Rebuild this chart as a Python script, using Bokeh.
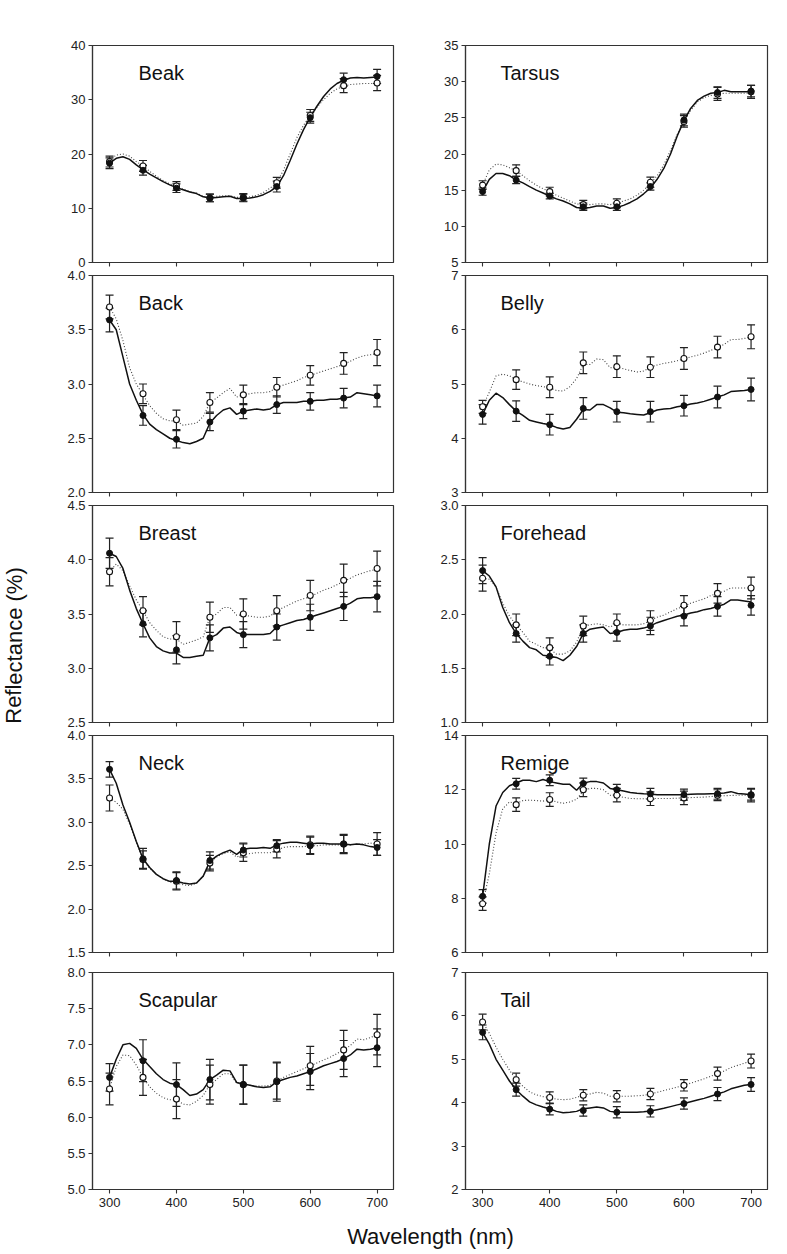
from bokeh.plotting import figure
from bokeh.layouts import row, column
from bokeh.models import Range1d, FixedTicker, PrintfTickFormatter, ColumnDataSource, Whisker, TeeHead, Label
from bokeh.embed import file_html
from bokeh.resources import INLINE
from bokeh.core.properties import value

FONT = "Liberation Sans"

WL = [300, 310, 320, 330, 340, 350, 360, 370, 380, 390, 400, 410, 420, 430, 440, 450, 460, 470, 480, 490,
      500, 510, 520, 530, 540, 550, 560, 570, 580, 590, 600, 610, 620, 630, 640, 650, 660, 670, 680, 690, 700]
PTS_WL = [300, 350, 400, 450, 500, 550, 600, 650, 700]
X_TICKS = [300, 400, 500, 600, 700]

# ---------------- Beak ----------------
beak_solid_curve = [18.3, 19.2, 19.5, 19.0, 18.0, 17.1, 16.3, 15.6, 14.9, 14.3, 13.8, 13.4, 13.0, 12.7, 12.1, 11.9, 12.0, 12.1, 12.2, 11.8,
                    11.8, 11.9, 12.1, 12.5, 13.1, 14.0, 16.0, 18.8, 21.8, 24.5, 26.8, 28.8, 30.6, 32.0, 33.0, 33.6, 34.0, 34.1, 34.0, 34.1, 34.2]
beak_open_curve = [18.9, 19.8, 20.0, 19.6, 18.6, 17.8, 16.8, 15.9, 15.1, 14.5, 14.0, 13.5, 13.1, 12.8, 12.2, 12.0, 12.2, 12.3, 12.3, 12.0,
                   12.0, 12.1, 12.4, 12.9, 13.7, 14.7, 17.0, 20.0, 23.0, 25.3, 27.0, 28.6, 30.0, 31.2, 32.0, 32.5, 32.8, 32.9, 33.0, 33.0, 33.0]
beak_solid_pts = [18.3, 17.0, 13.7, 11.9, 11.9, 14.0, 26.7, 33.7, 34.3]
beak_solid_err = [1.0, 0.9, 0.8, 0.7, 0.7, 1.0, 1.0, 1.2, 1.3]
beak_open_pts = [18.6, 17.8, 14.1, 11.9, 12.0, 14.7, 27.1, 32.6, 33.1]
beak_open_err = [1.0, 1.0, 0.8, 0.7, 0.7, 1.0, 1.1, 1.3, 1.4]

# ---------------- Tarsus ----------------
tarsus_solid_curve = [14.8, 16.5, 17.3, 17.3, 17.0, 16.4, 16.0, 15.5, 15.0, 14.6, 14.2, 13.8, 13.5, 13.1, 12.6, 12.5, 12.6, 12.8, 12.8, 12.5,
                      12.6, 12.9, 13.3, 13.8, 14.5, 15.3, 16.5, 18.0, 20.0, 22.5, 24.6, 26.3, 27.4, 28.0, 28.4, 28.5, 28.8, 28.6, 28.6, 28.6, 28.6]
tarsus_open_curve = [15.7, 17.8, 18.6, 18.5, 18.1, 17.7, 17.0, 16.3, 15.7, 15.2, 14.8, 14.3, 13.9, 13.5, 13.1, 13.0, 13.0, 13.1, 13.1, 13.0,
                     13.2, 13.5, 13.8, 14.3, 15.0, 15.9, 17.0, 18.5, 20.5, 22.7, 24.5, 26.0, 27.2, 27.8, 28.1, 28.2, 28.4, 28.4, 28.4, 28.4, 28.4]
tarsus_solid_pts = [14.8, 16.4, 14.2, 12.7, 12.7, 15.5, 24.7, 28.5, 28.7]
tarsus_solid_err = [0.5, 0.5, 0.4, 0.5, 0.5, 0.5, 0.8, 0.8, 0.8]
tarsus_open_pts = [15.7, 17.7, 14.8, 13.0, 13.2, 16.1, 24.5, 28.3, 28.6]
tarsus_open_err = [0.6, 0.8, 0.6, 0.6, 0.6, 0.7, 0.8, 0.9, 0.9]

# ---------------- Back ----------------
back_solid_curve = [3.59, 3.50, 3.25, 3.00, 2.85, 2.72, 2.63, 2.58, 2.54, 2.50, 2.48, 2.46, 2.45, 2.47, 2.50, 2.64, 2.71, 2.76, 2.78, 2.72,
                    2.75, 2.76, 2.77, 2.76, 2.77, 2.81, 2.83, 2.83, 2.83, 2.84, 2.84, 2.85, 2.85, 2.86, 2.86, 2.87, 2.88, 2.92, 2.91, 2.90, 2.89]
back_open_curve = [3.71, 3.60, 3.40, 3.15, 3.00, 2.90, 2.80, 2.73, 2.68, 2.66, 2.66, 2.62, 2.63, 2.64, 2.70, 2.83, 2.87, 2.92, 2.96, 2.88,
                   2.90, 2.91, 2.92, 2.92, 2.93, 2.97, 2.99, 3.01, 3.03, 3.06, 3.08, 3.10, 3.12, 3.14, 3.16, 3.18, 3.21, 3.24, 3.26, 3.27, 3.28]
back_solid_pts = [3.59, 2.71, 2.49, 2.65, 2.75, 2.81, 2.84, 2.87, 2.89]
back_solid_err = [0.11, 0.09, 0.08, 0.08, 0.07, 0.08, 0.08, 0.09, 0.10]
back_open_pts = [3.71, 2.91, 2.67, 2.83, 2.90, 2.97, 3.08, 3.19, 3.29]
back_open_err = [0.11, 0.09, 0.09, 0.09, 0.09, 0.09, 0.09, 0.10, 0.12]

# ---------------- Belly ----------------
belly_solid_curve = [4.44, 4.70, 4.83, 4.75, 4.62, 4.50, 4.42, 4.33, 4.30, 4.27, 4.25, 4.20, 4.17, 4.20, 4.35, 4.53, 4.52, 4.62, 4.62, 4.56,
                     4.48, 4.47, 4.45, 4.44, 4.43, 4.47, 4.52, 4.54, 4.55, 4.58, 4.60, 4.63, 4.65, 4.68, 4.72, 4.76, 4.80, 4.86, 4.87, 4.88, 4.90]
belly_open_curve = [4.58, 4.85, 5.15, 5.18, 5.15, 5.08, 5.04, 5.00, 4.97, 4.95, 4.93, 4.88, 4.87, 4.95, 5.10, 5.36, 5.36, 5.46, 5.45, 5.30,
                    5.31, 5.28, 5.25, 5.22, 5.24, 5.31, 5.35, 5.38, 5.40, 5.43, 5.46, 5.50, 5.53, 5.57, 5.62, 5.67, 5.73, 5.82, 5.82, 5.84, 5.87]
belly_solid_pts = [4.44, 4.50, 4.25, 4.55, 4.49, 4.49, 4.60, 4.76, 4.90]
belly_solid_err = [0.18, 0.19, 0.19, 0.20, 0.19, 0.19, 0.19, 0.20, 0.21]
belly_open_pts = [4.58, 5.08, 4.94, 5.39, 5.32, 5.31, 5.47, 5.68, 5.87]
belly_open_err = [0.12, 0.18, 0.19, 0.20, 0.20, 0.19, 0.20, 0.20, 0.22]

# ---------------- Breast ----------------
breast_solid_curve = [4.06, 4.03, 3.92, 3.72, 3.55, 3.41, 3.28, 3.20, 3.16, 3.14, 3.14, 3.10, 3.10, 3.11, 3.12, 3.28, 3.31, 3.37, 3.38, 3.33,
                      3.31, 3.31, 3.31, 3.31, 3.32, 3.38, 3.40, 3.42, 3.44, 3.45, 3.47, 3.49, 3.51, 3.53, 3.55, 3.57, 3.60, 3.64, 3.65, 3.65, 3.66]
breast_open_curve = [3.89, 3.96, 3.90, 3.76, 3.63, 3.53, 3.42, 3.35, 3.29, 3.27, 3.27, 3.22, 3.24, 3.26, 3.29, 3.47, 3.50, 3.56, 3.56, 3.49,
                     3.49, 3.48, 3.47, 3.47, 3.48, 3.53, 3.56, 3.59, 3.62, 3.64, 3.66, 3.69, 3.72, 3.74, 3.77, 3.80, 3.83, 3.86, 3.88, 3.90, 3.91]
breast_solid_pts = [4.06, 3.41, 3.17, 3.28, 3.31, 3.38, 3.47, 3.57, 3.66]
breast_solid_err = [0.14, 0.12, 0.13, 0.12, 0.12, 0.12, 0.12, 0.13, 0.14]
breast_open_pts = [3.89, 3.53, 3.29, 3.47, 3.50, 3.53, 3.67, 3.81, 3.92]
breast_open_err = [0.13, 0.13, 0.14, 0.14, 0.14, 0.14, 0.14, 0.15, 0.16]

# ---------------- Forehead ----------------
forehead_solid_curve = [2.40, 2.35, 2.25, 2.06, 1.92, 1.82, 1.75, 1.69, 1.67, 1.62, 1.61, 1.60, 1.57, 1.62, 1.70, 1.82, 1.86, 1.87, 1.88, 1.82,
                        1.83, 1.85, 1.86, 1.86, 1.87, 1.89, 1.92, 1.94, 1.96, 1.98, 1.99, 2.01, 2.02, 2.04, 2.05, 2.07, 2.09, 2.13, 2.13, 2.12, 2.11]
forehead_open_curve = [2.33, 2.32, 2.25, 2.10, 1.98, 1.90, 1.83, 1.75, 1.72, 1.69, 1.68, 1.63, 1.63, 1.66, 1.74, 1.89, 1.90, 1.91, 1.90, 1.88,
                       1.91, 1.90, 1.90, 1.90, 1.91, 1.94, 1.97, 1.99, 2.02, 2.05, 2.07, 2.10, 2.12, 2.14, 2.17, 2.19, 2.21, 2.24, 2.24, 2.24, 2.24]
forehead_solid_pts = [2.40, 1.82, 1.61, 1.82, 1.83, 1.89, 1.98, 2.07, 2.08]
forehead_solid_err = [0.12, 0.08, 0.08, 0.08, 0.08, 0.08, 0.09, 0.09, 0.09]
forehead_open_pts = [2.33, 1.90, 1.69, 1.89, 1.92, 1.94, 2.08, 2.19, 2.24]
forehead_open_err = [0.12, 0.10, 0.09, 0.09, 0.08, 0.09, 0.09, 0.09, 0.10]

# ---------------- Neck ----------------
neck_solid_curve = [3.61, 3.45, 3.20, 3.00, 2.78, 2.58, 2.48, 2.40, 2.35, 2.32, 2.32, 2.30, 2.29, 2.30, 2.38, 2.55, 2.61, 2.65, 2.68, 2.63,
                    2.69, 2.70, 2.70, 2.71, 2.70, 2.74, 2.76, 2.77, 2.77, 2.76, 2.75, 2.76, 2.76, 2.75, 2.75, 2.75, 2.74, 2.75, 2.74, 2.72, 2.71]
neck_open_curve = [3.28, 3.23, 3.15, 2.98, 2.77, 2.57, 2.47, 2.40, 2.35, 2.31, 2.30, 2.28, 2.27, 2.30, 2.38, 2.53, 2.60, 2.64, 2.66, 2.60,
                   2.63, 2.64, 2.65, 2.65, 2.65, 2.68, 2.71, 2.72, 2.72, 2.72, 2.73, 2.73, 2.74, 2.74, 2.74, 2.74, 2.74, 2.75, 2.75, 2.76, 2.75]
neck_solid_pts = [3.61, 2.58, 2.33, 2.56, 2.68, 2.73, 2.73, 2.75, 2.71]
neck_solid_err = [0.09, 0.12, 0.10, 0.10, 0.08, 0.07, 0.10, 0.10, 0.09]
neck_open_pts = [3.28, 2.57, 2.32, 2.53, 2.65, 2.69, 2.74, 2.75, 2.75]
neck_open_err = [0.15, 0.10, 0.10, 0.09, 0.10, 0.10, 0.10, 0.11, 0.13]

# ---------------- Remige ----------------
remige_solid_curve = [8.07, 10.0, 11.4, 11.9, 12.15, 12.25, 12.35, 12.35, 12.30, 12.38, 12.30, 12.25, 12.20, 12.20, 11.98, 12.25, 12.30, 12.30, 12.25, 12.05,
                      12.00, 11.95, 11.90, 11.87, 11.85, 11.84, 11.82, 11.82, 11.82, 11.82, 11.82, 11.83, 11.84, 11.84, 11.85, 11.86, 11.88, 11.93, 11.86, 11.84, 11.82]
remige_open_curve = [7.80, 8.90, 10.40, 11.30, 11.55, 11.50, 11.60, 11.62, 11.60, 11.58, 11.65, 11.55, 11.50, 11.55, 11.65, 11.95, 12.05, 12.05, 12.00, 11.80,
                     11.78, 11.72, 11.68, 11.67, 11.67, 11.67, 11.68, 11.68, 11.68, 11.69, 11.70, 11.71, 11.72, 11.73, 11.75, 11.77, 11.78, 11.79, 11.80, 11.80, 11.80]
remige_solid_pts = [8.07, 12.22, 12.35, 12.23, 12.00, 11.85, 11.82, 11.85, 11.82]
remige_solid_err = [0.25, 0.20, 0.20, 0.20, 0.20, 0.20, 0.20, 0.20, 0.20]
remige_open_pts = [7.80, 11.45, 11.64, 12.00, 11.80, 11.67, 11.70, 11.80, 11.80]
remige_open_err = [0.25, 0.25, 0.25, 0.25, 0.25, 0.25, 0.25, 0.20, 0.25]

# ---------------- Scapular ----------------
scapular_solid_curve = [6.55, 6.80, 7.00, 7.02, 6.95, 6.80, 6.70, 6.60, 6.52, 6.47, 6.45, 6.38, 6.30, 6.32, 6.38, 6.52, 6.58, 6.65, 6.64, 6.48,
                        6.46, 6.44, 6.42, 6.41, 6.42, 6.49, 6.52, 6.55, 6.57, 6.60, 6.63, 6.67, 6.71, 6.74, 6.77, 6.81, 6.86, 6.94, 6.93, 6.94, 6.96]
scapular_open_curve = [6.39, 6.70, 6.86, 6.85, 6.72, 6.55, 6.42, 6.33, 6.27, 6.24, 6.24, 6.18, 6.17, 6.22, 6.30, 6.45, 6.52, 6.60, 6.60, 6.47,
                       6.46, 6.44, 6.43, 6.43, 6.44, 6.50, 6.55, 6.59, 6.63, 6.67, 6.71, 6.75, 6.79, 6.83, 6.88, 6.93, 6.99, 7.08, 7.07, 7.10, 7.14]
scapular_solid_pts = [6.55, 6.78, 6.45, 6.52, 6.45, 6.49, 6.63, 6.81, 6.96]
scapular_solid_err = [0.19, 0.29, 0.30, 0.28, 0.27, 0.27, 0.25, 0.25, 0.26]
scapular_open_pts = [6.39, 6.55, 6.25, 6.45, 6.45, 6.50, 6.71, 6.93, 7.14]
scapular_open_err = [0.22, 0.25, 0.27, 0.27, 0.27, 0.25, 0.27, 0.27, 0.28]

# ---------------- Tail ----------------
tail_solid_curve = [5.62, 5.35, 5.00, 4.75, 4.50, 4.30, 4.15, 4.02, 3.95, 3.90, 3.86, 3.80, 3.77, 3.78, 3.80, 3.86, 3.88, 3.90, 3.88, 3.80,
                    3.78, 3.78, 3.78, 3.78, 3.79, 3.81, 3.84, 3.87, 3.91, 3.95, 3.98, 4.02, 4.06, 4.10, 4.15, 4.20, 4.25, 4.32, 4.36, 4.40, 4.42]
tail_open_curve = [5.86, 5.60, 5.28, 5.00, 4.75, 4.53, 4.38, 4.25, 4.18, 4.14, 4.12, 4.08, 4.07, 4.08, 4.12, 4.18, 4.20, 4.24, 4.22, 4.15,
                   4.15, 4.15, 4.15, 4.16, 4.17, 4.20, 4.24, 4.28, 4.32, 4.36, 4.40, 4.45, 4.50, 4.55, 4.61, 4.67, 4.73, 4.81, 4.86, 4.91, 4.96]
tail_solid_pts = [5.62, 4.30, 3.85, 3.82, 3.78, 3.80, 3.98, 4.20, 4.42]
tail_solid_err = [0.17, 0.15, 0.13, 0.13, 0.13, 0.13, 0.13, 0.15, 0.16]
tail_open_pts = [5.86, 4.53, 4.12, 4.17, 4.15, 4.20, 4.40, 4.67, 4.96]
tail_open_err = [0.18, 0.15, 0.13, 0.13, 0.13, 0.13, 0.13, 0.15, 0.16]

PANELS = [
    [("Beak", 0, 40, [0, 10, 20, 30, 40], "%d", beak_solid_curve, beak_open_curve, beak_solid_pts, beak_solid_err, beak_open_pts, beak_open_err),
     ("Tarsus", 5, 35, [5, 10, 15, 20, 25, 30, 35], "%d", tarsus_solid_curve, tarsus_open_curve, tarsus_solid_pts, tarsus_solid_err, tarsus_open_pts, tarsus_open_err)],
    [("Back", 2.0, 4.0, [2.0, 2.5, 3.0, 3.5, 4.0], "%.1f", back_solid_curve, back_open_curve, back_solid_pts, back_solid_err, back_open_pts, back_open_err),
     ("Belly", 3, 7, [3, 4, 5, 6, 7], "%d", belly_solid_curve, belly_open_curve, belly_solid_pts, belly_solid_err, belly_open_pts, belly_open_err)],
    [("Breast", 2.5, 4.5, [2.5, 3.0, 3.5, 4.0, 4.5], "%.1f", breast_solid_curve, breast_open_curve, breast_solid_pts, breast_solid_err, breast_open_pts, breast_open_err),
     ("Forehead", 1.0, 3.0, [1.0, 1.5, 2.0, 2.5, 3.0], "%.1f", forehead_solid_curve, forehead_open_curve, forehead_solid_pts, forehead_solid_err, forehead_open_pts, forehead_open_err)],
    [("Neck", 1.5, 4.0, [1.5, 2.0, 2.5, 3.0, 3.5, 4.0], "%.1f", neck_solid_curve, neck_open_curve, neck_solid_pts, neck_solid_err, neck_open_pts, neck_open_err),
     ("Remige", 6, 14, [6, 8, 10, 12, 14], "%d", remige_solid_curve, remige_open_curve, remige_solid_pts, remige_solid_err, remige_open_pts, remige_open_err)],
    [("Scapular", 5.0, 8.0, [5.0, 5.5, 6.0, 6.5, 7.0, 7.5, 8.0], "%.1f", scapular_solid_curve, scapular_open_curve, scapular_solid_pts, scapular_solid_err, scapular_open_pts, scapular_open_err),
     ("Tail", 2, 7, [2, 3, 4, 5, 6, 7], "%d", tail_solid_curve, tail_open_curve, tail_solid_pts, tail_solid_err, tail_open_pts, tail_open_err)],
]

FRAME_H = 217
TOPS = [45, 6, 6, 6, 13]
BOTTOMS = [7, 7, 7, 7, 25]
X0, X1 = 274.5, 724.5
AX = "#333333"
YLAB_W = 48


def add_errorbars(p, pts, err, color):
    src = ColumnDataSource(dict(x=PTS_WL, lo=[v - e for v, e in zip(pts, err)], hi=[v + e for v, e in zip(pts, err)]))
    w = Whisker(source=src, base="x", lower="lo", upper="hi", line_color=color, line_width=1.2,
                upper_head=TeeHead(size=8, line_color=color, line_width=1.2),
                lower_head=TeeHead(size=8, line_color=color, line_width=1.2))
    p.add_layout(w)


def make_panel(spec, col, r):
    name, ymin, ymax, yticks, fmt, sc, oc, sp, se, op, oe = spec
    fw = 301 if col == 0 else 302
    p = figure(frame_width=fw, frame_height=FRAME_H, x_range=Range1d(X0, X1), y_range=Range1d(ymin, ymax),
               output_backend="svg", toolbar_location=None,
               min_border_left=44 if col == 0 else 42, min_border_right=30 if col == 0 else 8,
               min_border_top=TOPS[r], min_border_bottom=BOTTOMS[r])
    p.xgrid.visible = False
    p.ygrid.visible = False
    p.outline_line_color = AX
    p.outline_line_width = 1.2
    p.outline_line_alpha = 1.0
    for ax in p.axis:
        ax.axis_line_color = AX
        ax.axis_line_width = 1.2
        ax.major_tick_line_color = AX
        ax.major_tick_line_width = 1.1
        ax.minor_tick_line_color = None
        ax.major_tick_in = 0
        ax.major_tick_out = 4
        ax.major_label_text_font = FONT
        ax.major_label_text_font_size = "13px"
        ax.major_label_text_color = "#222222"
    p.yaxis.ticker = FixedTicker(ticks=yticks)
    p.yaxis.formatter = PrintfTickFormatter(format=fmt)
    p.yaxis.major_label_standoff = 3
    p.xaxis.ticker = FixedTicker(ticks=X_TICKS)
    if r < 4:
        p.xaxis.major_label_text_color = None
        p.xaxis.major_label_standoff = 0
    else:
        p.xaxis.major_label_standoff = 4

    p.line(WL, oc, line_color="#444444", line_width=1.1, line_dash="1 2")
    p.line(WL, sc, line_color="#111111", line_width=1.5)
    add_errorbars(p, op, oe, "#222222")
    add_errorbars(p, sp, se, "#222222")
    p.scatter(PTS_WL, op, marker="circle", size=6, fill_color="white", line_color="#111111", line_width=1.1)
    p.scatter(PTS_WL, sp, marker="circle", size=6, fill_color="#111111", line_color="#111111")

    title_px = 46 if col == 0 else 35
    tx = X0 + title_px * (X1 - X0) / fw
    ty = ymax - 27.0 / FRAME_H * (ymax - ymin)
    p.add_layout(Label(x=tx, y=ty, text=name, text_font=FONT, text_font_size="20px",
                       text_color="#111111", text_baseline="alphabetic", text_align="left"))
    return p


rows = []
for r, pair in enumerate(PANELS):
    rows.append(row(make_panel(pair[0], 0, r), make_panel(pair[1], 1, r)))
grid = column(*rows)

GRID_H = sum(TOPS) + sum(BOTTOMS) + 5 * FRAME_H
ylab = figure(width=YLAB_W, height=GRID_H, x_range=Range1d(0, YLAB_W), y_range=Range1d(GRID_H, 0),
              x_axis_type=None, y_axis_type=None, output_backend="svg", toolbar_location=None,
              min_border=0)
ylab.outline_line_color = None
ylab.grid.visible = False
ylab.text(x=[13.5], y=[645], text=["Reflectance (%)"], angle=1.5707963, text_align="center",
          text_baseline="middle", text_font=value(FONT), text_font_size="22px", text_color="#111111")

TOTAL_W = YLAB_W + 375 + 352
XLAB_H = 40
xlab = figure(width=TOTAL_W, height=XLAB_H, x_range=Range1d(0, TOTAL_W), y_range=Range1d(XLAB_H, 0),
              x_axis_type=None, y_axis_type=None, output_backend="svg", toolbar_location=None,
              min_border=0)
xlab.outline_line_color = None
xlab.grid.visible = False
xlab.text(x=[430], y=[22], text=["Wavelength (nm)"], text_align="center",
          text_baseline="middle", text_font=value(FONT), text_font_size="22px", text_color="#111111")

layout = column(row(ylab, grid), xlab)

open("out.html", "w").write(file_html(layout, INLINE))
